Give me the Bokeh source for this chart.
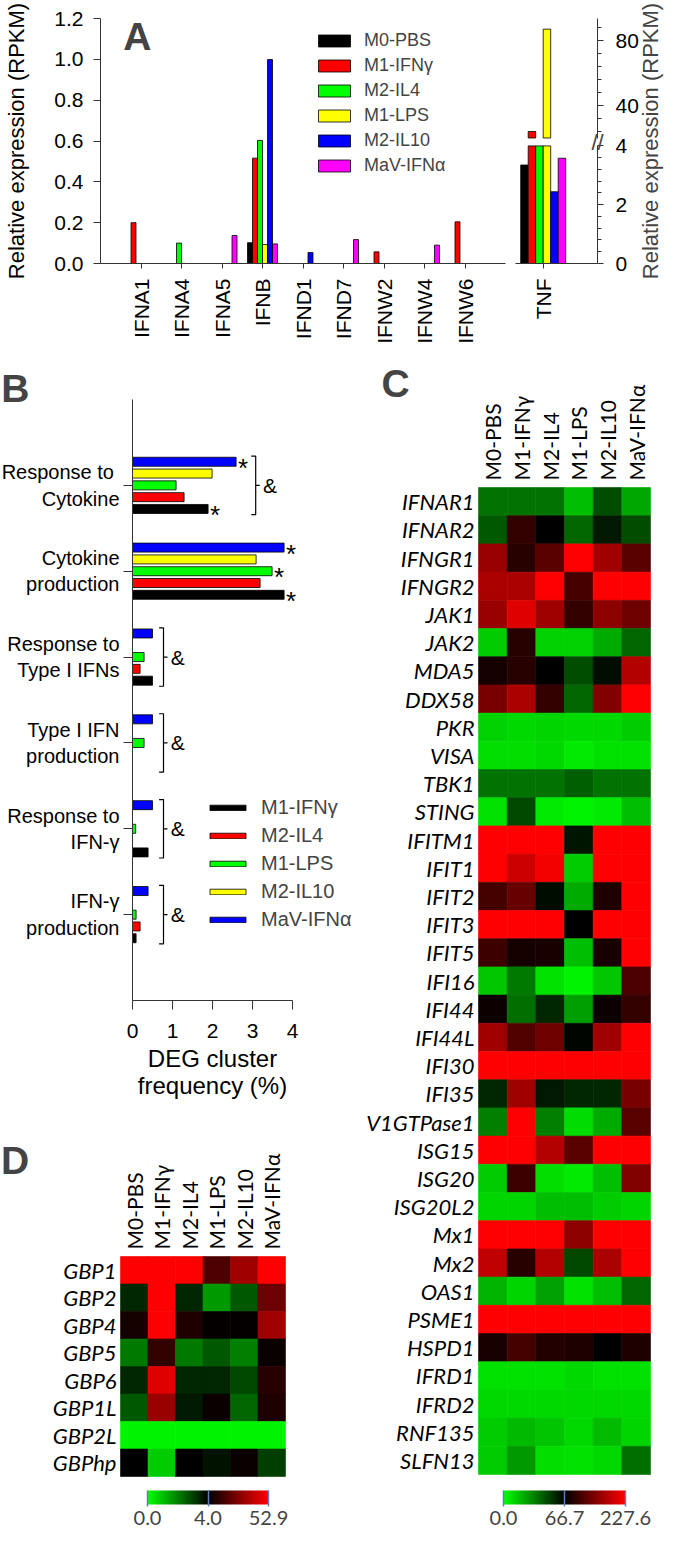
import math
from bokeh.plotting import figure
from bokeh.models import (Range1d, FixedTicker, LinearAxis, Legend, LegendItem, Label,
                          ColorBar, LinearColorMapper, PrintfTickFormatter, ColumnDataSource)
from bokeh.layouts import row, column
from bokeh.embed import file_html
from bokeh.resources import INLINE
from bokeh.core.properties import value

# ------------------------------------------------------------------ data
conditions = ["M0-PBS", "M1-IFNγ", "M2-IL4", "M1-LPS", "M2-IL10", "MaV-IFNα"]
cond_colors = ["#000000", "#ff0000", "#00ff00", "#ffff00", "#0000ff", "#ff00ff"]

# Panel A (RPKM)
a_genes = ["IFNA1", "IFNA4", "IFNA5", "IFNB", "IFND1", "IFND7", "IFNW2", "IFNW4", "IFNW6"]
a_m0_pbs = [0, 0, 0, 0.102, 0, 0, 0, 0, 0]
a_m1_ifng = [0.20, 0, 0, 0.516, 0, 0, 0.057, 0, 0.204]
a_m2_il4 = [0, 0.10, 0, 0.603, 0, 0, 0, 0, 0]
a_m1_lps = [0, 0, 0, 0.093, 0, 0, 0, 0, 0]
a_m2_il10 = [0, 0, 0, 0.999, 0.054, 0, 0, 0, 0]
a_mav_ifna = [0, 0, 0.137, 0.096, 0, 0.117, 0, 0.09, 0]
a_yticks = [0.0, 0.2, 0.4, 0.6, 0.8, 1.0, 1.2]

tnf_gene = "TNF"
tnf_values = [3.35, 24.0, 4.0, 87.0, 2.44, 3.58]
tnf_break = [4, 20]
tnf_top = 93.5
tnf_low_ticks = [0, 2, 4]
tnf_low_minor = [0.4, 0.8, 1.2, 1.6, 2.4, 2.8, 3.2, 3.6]
tnf_high_ticks = [40, 80]
tnf_high_minor = [24, 32, 48, 56, 64, 72, 88]

# Panel B (DEG cluster frequency, %)
b_groups = ["Response  to\nCytokine", "Cytokine\nproduction", "Response to\nType I IFNs",
            "Type I IFN\nproduction", "Response to\nIFN-γ", "IFN-γ\nproduction"]
b_series = ["M1-IFNγ", "M2-IL4", "M1-LPS", "M2-IL10", "MaV-IFNα"]
b_colors = ["#000000", "#ff0000", "#00ff00", "#ffff00", "#0000ff"]
b_m1_ifng = [1.89, 3.79, 0.50, 0, 0.39, 0.09]
b_m2_il4 = [1.29, 3.19, 0.19, 0, 0, 0.19]
b_m1_lps = [1.09, 3.49, 0.29, 0.29, 0.08, 0.09]
b_m2_il10 = [1.99, 3.09, 0, 0, 0, 0]
b_mav_ifna = [2.59, 3.79, 0.50, 0.50, 0.50, 0.39]
b_xticks = [0, 1, 2, 3, 4]
b_star_group = [0, 0, 1, 1, 1]
b_star_series = [4, 0, 4, 2, 0]
b_bracket_group = [0, 2, 3, 4, 5]
b_bracket_x = [3.08, 0.775, 0.775, 0.775, 0.775]

# Panel C heatmap (expression)
c_genes = ["IFNAR1", "IFNAR2", "IFNGR1", "IFNGR2", "JAK1", "JAK2", "MDA5", "DDX58", "PKR", "VISA",
           "TBK1", "STING", "IFITM1", "IFIT1", "IFIT2", "IFIT3", "IFIT5", "IFI16", "IFI44", "IFI44L",
           "IFI30", "IFI35", "V1GTPase1", "ISG15", "ISG20", "ISG20L2", "Mx1", "Mx2", "OAS1", "PSME1",
           "HSPD1", "IFRD1", "IFRD2", "RNF135", "SLFN13"]
c_m0_pbs = [36.7, 43.4, 163.2, 174.5, 163.2, 13.3, 79.6, 142.3, 12.0, 8.7, 36.7, 8.0, 227.6, 227.6,
            110.1, 227.6, 105.3, 14.7, 74.7, 168.1, 227.6, 56.7, 33.4, 227.6, 13.3, 11.3, 227.6,
            187.4, 20.0, 227.6, 82.8, 8.0, 10.0, 13.3, 13.3]
c_m1_ifng = [36.7, 98.9, 90.8, 174.5, 206.7, 90.8, 90.8, 174.5, 10.0, 8.7, 36.7, 48.0, 227.6, 195.4,
             131.1, 227.6, 79.6, 35.4, 38.0, 118.2, 227.6, 168.1, 227.6, 227.6, 105.3, 11.3, 227.6,
             90.8, 11.3, 227.6, 110.1, 8.0, 10.0, 18.7, 26.7]
c_m2_il4 = [36.7, 66.7, 123.0, 227.6, 166.5, 12.0, 66.7, 98.9, 11.3, 10.0, 36.7, 5.3, 227.6, 219.6,
            64.0, 227.6, 82.8, 8.0, 56.7, 135.9, 227.6, 60.0, 33.4, 179.3, 8.7, 16.7, 227.6, 179.3,
            24.7, 227.6, 89.2, 8.0, 10.0, 15.3, 8.7]
c_m1_lps = [16.7, 40.0, 227.6, 111.8, 98.9, 12.0, 46.7, 40.0, 10.0, 5.3, 42.0, 3.3, 61.4, 13.3,
            22.0, 66.7, 16.7, 3.3, 25.3, 65.4, 227.6, 56.7, 9.3, 123.0, 5.3, 16.7, 155.2, 48.0,
            8.0, 227.6, 86.0, 10.0, 10.0, 10.0, 8.0]
c_m2_il10 = [46.7, 60.0, 168.1, 227.6, 155.2, 22.0, 63.4, 147.2, 10.0, 8.0, 36.7, 5.3, 227.6, 227.6,
             86.0, 227.6, 82.8, 14.7, 74.7, 168.1, 227.6, 56.7, 22.0, 227.6, 16.7, 13.3, 227.6,
             174.5, 16.7, 227.6, 66.7, 8.0, 10.0, 18.0, 10.0]
c_mav_ifna = [23.3, 46.7, 123.0, 227.6, 135.9, 40.0, 179.3, 227.6, 13.3, 8.0, 36.7, 16.7, 227.6,
              227.6, 227.6, 227.6, 227.6, 115.0, 98.9, 227.6, 227.6, 142.3, 123.0, 227.6, 147.2,
              11.3, 227.6, 227.6, 40.0, 227.6, 86.0, 8.0, 10.0, 11.3, 38.0]
c_scale = [0.0, 66.7, 227.6]

# Panel D heatmap (expression)
d_genes = ["GBP1", "GBP2", "GBP4", "GBP5", "GBP6", "GBP1L", "GBP2L", "GBPhp"]
d_m0_pbs = [52.9, 3.4, 7.9, 2.1, 3.4, 2.6, 0.2, 4.0]
d_m1_ifng = [52.9, 52.9, 52.9, 13.8, 46.5, 33.3, 0.2, 0.8]
d_m2_il4 = [52.9, 3.4, 9.9, 2.1, 3.4, 3.6, 0.2, 4.0]
d_m1_lps = [18.7, 1.6, 5.0, 2.6, 3.4, 6.0, 0.2, 3.7]
d_m2_il10 = [34.8, 2.6, 5.0, 2.0, 2.9, 2.4, 0.2, 6.0]
d_mav_ifna = [52.9, 25.0, 34.8, 6.0, 11.3, 9.9, 0.2, 3.0]
d_scale = [0.0, 4.0, 52.9]

# ------------------------------------------------------------------ styling helpers
FA = "Liberation Sans"
FH = "Lato"
AXC = "#333333"


def new_fig(w, h, xr, yr):
    # the frame covers the whole canvas; every axis is placed with fixed_location
    p = figure(frame_width=w, frame_height=h, min_border_left=0, min_border_right=0,
               min_border_top=0, min_border_bottom=0, x_range=xr, y_range=yr,
               x_axis_type=None, y_axis_type=None, output_backend="svg", toolbar_location=None)
    p.outline_line_color = None
    p.background_fill_color = "white"
    p.border_fill_color = "white"
    return p


def style_axis(ax, font, size, tick_out=6, standoff=6, lines=True):
    ax.axis_line_color = AXC if lines else None
    ax.axis_line_width = 1
    ax.major_tick_line_color = AXC if lines else None
    ax.major_tick_in = 0
    ax.major_tick_out = tick_out if lines else 0
    ax.minor_tick_line_color = AXC if lines else None
    ax.minor_tick_in = 0
    ax.minor_tick_out = 4 if lines else 0
    ax.major_label_text_font = font
    ax.major_label_text_font_size = size
    ax.major_label_text_color = "black"
    ax.major_label_standoff = standoff
    ax.axis_label_text_font = font
    ax.axis_label_text_font_style = "normal"
    ax.axis_label_text_color = "black"


def letter(p, text, x, y):
    # (x, y): left edge / vertical centre of the panel letter
    p.add_layout(Label(x=x, y=y, text=text, text_font=FA, text_font_size="39px",
                       text_font_style="bold", text_align="left", text_baseline="middle"))


# ------------------------------------------------------------------ Panel A (one canvas)
AW, AH = 664, 347
a_px_x = 40.5            # px per category
a_left = 100             # px from canvas left to x = 0
a_bottom = 84            # px from canvas bottom to y = 0
a_px_main = 245 / 1.2    # px per RPKM (left scale)
a_px_low = 29.4          # px per RPKM (TNF lower segment)
a_px_up = 1.625          # px per RPKM (TNF upper segment)
a_up_ref = (40, 158)     # upper scale: value 40 sits 158 px above baseline
x0 = -a_left / a_px_x
y0 = -a_bottom / a_px_main
pa = new_fig(AW, AH, Range1d(x0, x0 + AW / a_px_x), Range1d(y0, y0 + AH / a_px_main))
lo0 = -a_bottom / a_px_low
up0 = a_up_ref[0] - (a_bottom + a_up_ref[1]) / a_px_up
pa.extra_y_ranges = {"low": Range1d(lo0, lo0 + AH / a_px_low),
                     "up": Range1d(up0, up0 + AH / a_px_up)}
nA = len(a_genes)
tnf_l = nA + 1 + 10 / a_px_x          # TNF sub-axis start
tnf_r = tnf_l + 82 / a_px_x           # TNF sub-axis end
tnf_c = tnf_l + 27.7 / a_px_x         # TNF category centre

a_series = [a_m0_pbs, a_m1_ifng, a_m2_il4, a_m1_lps, a_m2_il10, a_mav_ifna]
bw = 5 / a_px_x
a_rends = []
for k, (vals, col) in enumerate(zip(a_series, cond_colors)):
    idx = [i for i, v in enumerate(vals) if v > 0]
    r = pa.vbar(x=[i + 1 + (k - 2.5) * bw for i in idx], top=[vals[i] for i in idx], bottom=0,
                width=bw, fill_color=col, line_color="black", line_width=0.8)
    a_rends.append(r)

tw = 7.5 / a_px_x
for k, (v, col) in enumerate(zip(tnf_values, cond_colors)):
    x = tnf_c + (k - 2.5) * tw
    pa.vbar(x=[x], top=[min(v, tnf_break[0])], bottom=0, width=tw, fill_color=col,
            line_color="black", line_width=0.8, y_range_name="low")
    if v > tnf_break[1]:
        pa.vbar(x=[x], top=[v], bottom=tnf_break[1], width=tw, fill_color=col,
                line_color="black", line_width=0.8, y_range_name="up")

axl = LinearAxis(fixed_location=0, bounds=(0, 1.2), ticker=FixedTicker(ticks=a_yticks),
                 formatter=PrintfTickFormatter(format="%.1f"), axis_label="Relative expression (RPKM)")
style_axis(axl, FA, "21px", tick_out=7, standoff=10)
axl.axis_label_text_font_size = "22px"
axl.axis_label_standoff = 22
pa.add_layout(axl, "left")

axb = LinearAxis(fixed_location=0, bounds=(0, nA + 1),
                 ticker=FixedTicker(ticks=list(range(1, nA + 1))),
                 major_label_overrides={i + 1: g for i, g in enumerate(a_genes)},
                 major_label_orientation=math.pi / 2)
style_axis(axb, FA, "21px", tick_out=5, standoff=10)
pa.add_layout(axb, "below")

axt = LinearAxis(fixed_location=0, bounds=(tnf_l, tnf_r), ticker=FixedTicker(ticks=[tnf_c]),
                 major_label_overrides={tnf_c: tnf_gene}, major_label_orientation=math.pi / 2)
style_axis(axt, FA, "21px", tick_out=5, standoff=10)
pa.add_layout(axt, "below")

ax_low = LinearAxis(y_range_name="low", fixed_location=tnf_r, bounds=(0, tnf_break[0]),
                    ticker=FixedTicker(ticks=tnf_low_ticks, minor_ticks=tnf_low_minor))
style_axis(ax_low, FA, "21px", tick_out=6, standoff=12)
pa.add_layout(ax_low, "right")
ax_up = LinearAxis(y_range_name="up", fixed_location=tnf_r, bounds=(tnf_break[1], tnf_top),
                   ticker=FixedTicker(ticks=tnf_high_ticks, minor_ticks=tnf_high_minor))
style_axis(ax_up, FA, "21px", tick_out=6, standoff=12)
pa.add_layout(ax_up, "right")

pa.add_layout(Label(x=tnf_r + 53 / a_px_x, y=122.5 / a_px_main,
                    text="Relative expression (RPKM)", angle=math.pi / 2,
                    text_font=FA, text_font_size="22px", text_align="center", text_baseline="middle"))
pa.add_layout(Label(x=tnf_r, y=121 / a_px_main, text="//", text_font=FA, text_font_size="22px",
                    text_align="center", text_baseline="middle"))

leg_a = Legend(items=[LegendItem(label=c, renderers=[r]) for c, r in zip(conditions, a_rends)],
               location=(314, 171), glyph_width=40, glyph_height=15, label_standoff=10, spacing=4,
               padding=0, margin=0, border_line_color=None, background_fill_alpha=0,
               label_text_font=FA, label_text_font_size="18px")
pa.add_layout(leg_a)
letter(pa, "A", 0.56, (263 - 36) / a_px_main)

# ------------------------------------------------------------------ Panel B
BW, BH = 356, 763
b_px_x, b_px_y = 40, 601 / 7
b_left, b_bottom = 132, 110
ng = len(b_groups)
bx0 = -b_left / b_px_x
by0 = -1 - b_bottom / b_px_y
pb = new_fig(BW, BH, Range1d(bx0, bx0 + BW / b_px_x), Range1d(by0, by0 + BH / b_px_y))
b_vals = [b_m1_ifng, b_m2_il4, b_m1_lps, b_m2_il10, b_mav_ifna]
pitch = 11.8 / b_px_y
bh = 9 / b_px_y
b_rends = []
for k, (vals, col) in enumerate(zip(b_vals, b_colors)):
    idx = [g for g, v in enumerate(vals) if v > 0]
    r = pb.hbar(y=[ng - 1 - g + (k - 2) * pitch for g in idx], right=[vals[g] for g in idx], left=0,
                height=bh, fill_color=col, line_color="black", line_width=0.8)
    b_rends.append(r)

sx = [b_vals[s][g] + 0.05 for g, s in zip(b_star_group, b_star_series)]
sy = [ng - 1 - g + (s - 2) * pitch - 0.07 for g, s in zip(b_star_group, b_star_series)]
pb.text(x=sx, y=sy, text=["*"] * len(sx), text_font=value(FA), text_font_size=value("26px"),
        text_align="left", text_baseline="middle")

bxs, bys = [], []
for g, xb in zip(b_bracket_group, b_bracket_x):
    yc = ng - 1 - g
    bxs.append([xb - 0.11, xb, xb, xb - 0.11])
    bys.append([yc + 0.34, yc + 0.34, yc - 0.34, yc - 0.34])
    bxs.append([xb, xb + 0.1])
    bys.append([yc, yc])
pb.multi_line(xs=bxs, ys=bys, line_color="black", line_width=1.2)
pb.text(x=[xb + 0.355 for xb in b_bracket_x], y=[ng - 1 - g for g in b_bracket_group],
        text=["&"] * len(b_bracket_x), text_font=value(FA), text_font_size=value("21px"),
        text_align="center", text_baseline="middle")

axbx = LinearAxis(fixed_location=-1, bounds=(0, 4), ticker=FixedTicker(ticks=b_xticks),
                  axis_label="DEG cluster\nfrequency (%)")
style_axis(axbx, FA, "21px", tick_out=9, standoff=14)
axbx.axis_label_text_font_size = "24px"
axbx.axis_label_standoff = 4
axbx.axis_label_text_line_height = 1.0
pb.add_layout(axbx, "below")

axby = LinearAxis(fixed_location=0, bounds=(-1, ng), ticker=FixedTicker(ticks=list(range(ng))),
                  major_label_overrides={ng - 1 - g: lab for g, lab in enumerate(b_groups)})
style_axis(axby, FA, "20px", tick_out=9, standoff=4)
pb.add_layout(axby, "left")

leg_b = Legend(items=[LegendItem(label=c, renderers=[r]) for c, r in zip(b_series, b_rends)],
               location=(205, 179), glyph_width=45, glyph_height=7, label_standoff=11, spacing=5,
               padding=0, margin=0, border_line_color=None, background_fill_alpha=0,
               label_text_font=FA, label_text_font_size="20px")
pb.add_layout(leg_b)
letter(pb, "B", bx0 + 0.02, ng + 11.5 / b_px_y)

# ------------------------------------------------------------------ heatmaps
palette = []
for i in range(256):
    t = i / 255
    if t < 0.5:
        palette.append("#00%02x00" % round(255 * (1 - 2 * t)))
    else:
        palette.append("#%02x0000" % round(255 * (2 * t - 1)))
cmap = LinearColorMapper(palette=palette, low=0, high=1)


def heatmap(genes, cols, scale, W, H, col_px, row_px, left, top, cb_x, cb_w, let, let_px):
    n, m = len(genes), len(cols)
    lo, mid, hi = scale
    hx0 = -left / col_px
    hy1 = n + top / row_px
    p = new_fig(W, H, Range1d(hx0, hx0 + W / col_px), Range1d(hy1 - H / row_px, hy1))
    xs, ys, pos = [], [], []
    for j, vals in enumerate(cols):
        for i, v in enumerate(vals):
            xs.append(j + 0.5)
            ys.append(n - 0.5 - i)
            pos.append(0.5 * (v - lo) / (mid - lo) if v <= mid else 0.5 + 0.5 * (v - mid) / (hi - mid))
    src = ColumnDataSource(dict(x=xs, y=ys, pos=pos))
    p.rect(x="x", y="y", width=1, height=1, source=src,
           fill_color={"field": "pos", "transform": cmap},
           line_color={"field": "pos", "transform": cmap}, line_width=0.6)
    ay = LinearAxis(fixed_location=0, ticker=FixedTicker(ticks=[n - 0.5 - i for i in range(n)]),
                    major_label_overrides={n - 0.5 - i: g for i, g in enumerate(genes)})
    style_axis(ay, FH, "22px", standoff=4, lines=False)
    ay.major_label_text_font_style = "italic"
    p.add_layout(ay, "left")
    ax = LinearAxis(fixed_location=n, ticker=FixedTicker(ticks=[j + 0.5 for j in range(m)]),
                    major_label_overrides={j + 0.5: c for j, c in enumerate(conditions)},
                    major_label_orientation=math.pi / 2)
    style_axis(ax, FH, "21px", standoff=7, lines=False)
    p.add_layout(ax, "above")
    cb = ColorBar(color_mapper=cmap, orientation="horizontal", width=cb_w, height=14,
                  location=(cb_x, 0), padding=0,
                  ticker=FixedTicker(ticks=[0, 0.5, 1]),
                  major_label_overrides={0: "%.1f" % lo, 0.5: "%.1f" % mid, 1: "%.1f" % hi},
                  major_tick_line_color="#5b7fbf", major_tick_line_width=1.5,
                  major_tick_in=14, major_tick_out=2, label_standoff=4,
                  major_label_text_font=FH, major_label_text_font_size="20px",
                  bar_line_color=None, border_line_color=None, background_fill_alpha=0)
    p.add_layout(cb, "center")
    letter(p, let, let_px[0] / col_px, n + let_px[1] / row_px)
    return p


pc = heatmap(c_genes, [c_m0_pbs, c_m1_ifng, c_m2_il4, c_m1_lps, c_m2_il10, c_mav_ifna], c_scale,
             308, 1180, 172 / 6, 28.2, 122, 140, 147, 122, "C", (-97, 104.5))
pd = heatmap(d_genes, [d_m0_pbs, d_m1_ifng, d_m2_il4, d_m1_lps, d_m2_il10, d_mav_ifna], d_scale,
             356, 417, 27.5, 27.5, 120, 146, 147, 121, "D", (-119.5, 96))

layout = column(pa, row(column(pb, pd), pc))
with open("out.html", "w", encoding="utf-8") as f:
    f.write(file_html(layout, INLINE))
